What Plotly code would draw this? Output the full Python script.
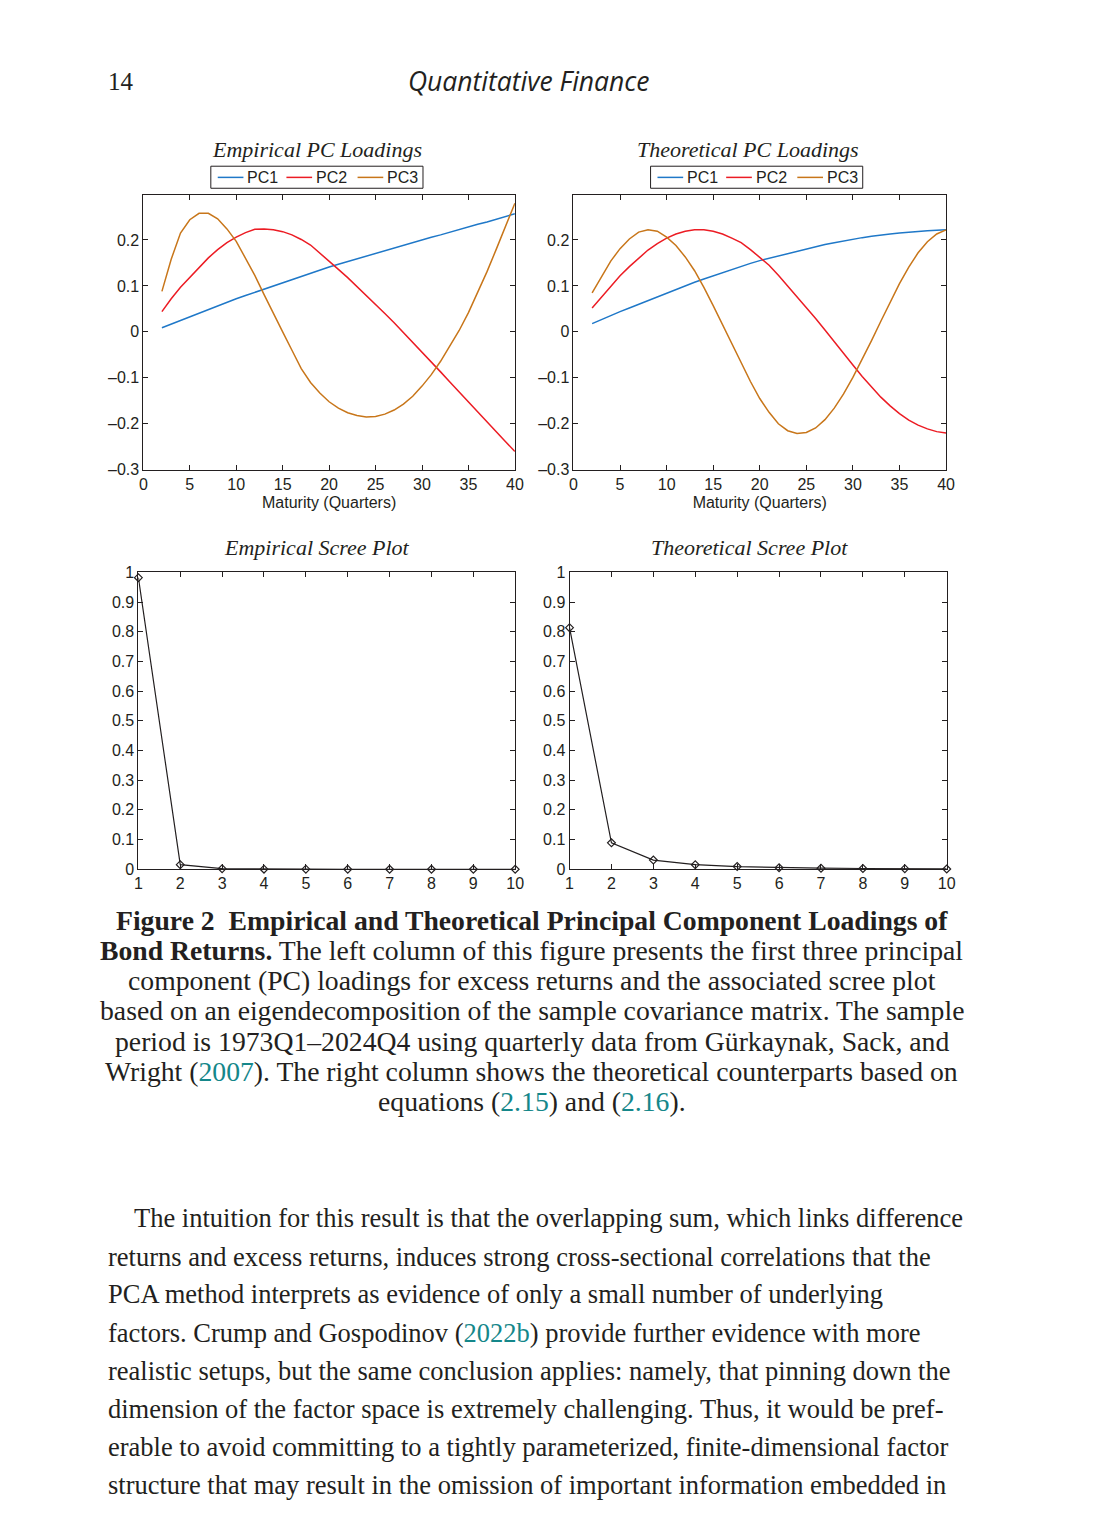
import plotly.graph_objects as go

W, H = 1100, 1520
INK = '#231f20'
TEAL = '#15878a'
BLUE, RED, ORANGE = '#1f78c8', '#ec1c24', '#c8761a'

maturity = list(range(2, 41))

emp_pc1 = [0.009, 0.017, 0.025, 0.033, 0.041, 0.049, 0.057, 0.064, 0.072, 0.079,
           0.086, 0.093, 0.100, 0.107, 0.114, 0.121, 0.128, 0.135, 0.141, 0.147,
           0.153, 0.159, 0.165, 0.171, 0.177, 0.183, 0.189, 0.194, 0.200, 0.206,
           0.211, 0.217, 0.222, 0.228, 0.234, 0.239, 0.245, 0.251, 0.257]
emp_pc2 = [0.044, 0.072, 0.097, 0.118, 0.140, 0.161, 0.179, 0.194, 0.206, 0.216,
           0.223, 0.224, 0.222, 0.218, 0.211, 0.201, 0.189, 0.172, 0.154, 0.136,
           0.118, 0.099, 0.080, 0.060, 0.040, 0.020, -0.001, -0.022, -0.043, -0.065,
           -0.087, -0.109, -0.131, -0.153, -0.175, -0.196, -0.218, -0.239, -0.260]
emp_pc3 = [0.088, 0.158, 0.215, 0.244, 0.258, 0.258, 0.246, 0.224, 0.197, 0.161,
           0.123, 0.081, 0.039, 0.000, -0.040, -0.080, -0.110, -0.133, -0.152, -0.166,
           -0.176, -0.182, -0.185, -0.184, -0.179, -0.170, -0.157, -0.140, -0.118, -0.093,
           -0.064, -0.032, 0.003, 0.042, 0.085, 0.131, 0.180, 0.230, 0.280]

theo_pc1 = [0.018, 0.027, 0.035, 0.044, 0.052, 0.060, 0.069, 0.077, 0.085, 0.093,
            0.100, 0.108, 0.115, 0.122, 0.129, 0.136, 0.142, 0.149, 0.155, 0.160,
            0.166, 0.171, 0.176, 0.181, 0.185, 0.190, 0.194, 0.198, 0.202, 0.205,
            0.208, 0.211, 0.213, 0.215, 0.217, 0.219, 0.220, 0.221, 0.222]
theo_pc2 = [0.052, 0.075, 0.100, 0.122, 0.142, 0.161, 0.178, 0.192, 0.204, 0.213,
            0.219, 0.222, 0.222, 0.219, 0.213, 0.204, 0.194, 0.179, 0.162, 0.145,
            0.123, 0.100, 0.077, 0.054, 0.029, 0.004, -0.022, -0.047, -0.072, -0.097,
            -0.120, -0.142, -0.161, -0.178, -0.192, -0.203, -0.211, -0.217, -0.220]
theo_pc3 = [0.085, 0.120, 0.154, 0.181, 0.202, 0.217, 0.222, 0.219, 0.206, 0.188,
            0.163, 0.133, 0.097, 0.057, 0.016, -0.027, -0.068, -0.108, -0.145, -0.175,
            -0.200, -0.215, -0.221, -0.219, -0.209, -0.191, -0.166, -0.135, -0.099, -0.060,
            -0.019, 0.023, 0.065, 0.105, 0.141, 0.172, 0.196, 0.213, 0.222]

components = list(range(1, 11))
emp_scree = [0.982, 0.0155, 0.002, 0.0004, 0.0002, 0.0001, 0.0001, 0.0, 0.0, 0.0]
theo_scree = [0.8135, 0.089, 0.031, 0.0155, 0.009, 0.0055, 0.0035, 0.0025, 0.002, 0.001]

load_ticks = [-0.3, -0.2, -0.1, 0, 0.1, 0.2]
load_labels = ['–0.3', '–0.2', '–0.1', '0', '0.1', '0.2']
scree_ticks = [0, 0.1, 0.2, 0.3, 0.4, 0.5, 0.6, 0.7, 0.8, 0.9, 1]
scree_labels = ['0', '0.1', '0.2', '0.3', '0.4', '0.5', '0.6', '0.7', '0.8', '0.9', '1']

caption = [
    "<b>Figure 2  Empirical and Theoretical Principal Component Loadings of</b>",
    "<b>Bond Returns.</b> The left column of this figure presents the first three principal",
    "component (PC) loadings for excess returns and the associated scree plot",
    "based on an eigendecomposition of the sample covariance matrix. The sample",
    "period is 1973Q1–2024Q4 using quarterly data from Gürkaynak, Sack, and",
    f"Wright (<span style='color:{TEAL}'>2007</span>). The right column shows the theoretical counterparts based on",
    f"equations (<span style='color:{TEAL}'>2.15</span>) and (<span style='color:{TEAL}'>2.16</span>).",
]
body = [
    "The intuition for this result is that the overlapping sum, which links difference",
    "returns and excess returns, induces strong cross-sectional correlations that the",
    "PCA method interprets as evidence of only a small number of underlying",
    f"factors. Crump and Gospodinov (<span style='color:{TEAL}'>2022b</span>) provide further evidence with more",
    "realistic setups, but the same conclusion applies: namely, that pinning down the",
    "dimension of the factor space is extremely challenging. Thus, it would be pref-",
    "erable to avoid committing to a tightly parameterized, finite-dimensional factor",
    "structure that may result in the omission of important information embedded in",
]


def px(x):
    return x / W


def py(y):
    return 1 - y / H


fig = go.Figure()

panels = [
    ('x', 'y', emp_pc1, emp_pc2, emp_pc3),
    ('x2', 'y2', theo_pc1, theo_pc2, theo_pc3),
]
for xa, ya, p1, p2, p3 in panels:
    for name, vals, col in [('PC1', p1, BLUE), ('PC2', p2, RED), ('PC3', p3, ORANGE)]:
        fig.add_trace(go.Scatter(x=maturity, y=vals, mode='lines', name=name, showlegend=False,
                                 line=dict(color=col, width=1.5), xaxis=xa, yaxis=ya))

for xa, ya, vals in [('x3', 'y3', emp_scree), ('x4', 'y4', theo_scree)]:
    fig.add_trace(go.Scatter(x=components, y=vals, mode='lines+markers', showlegend=False,
                             line=dict(color=INK, width=1.2),
                             marker=dict(symbol='diamond-open', size=6, color=INK,
                                         line=dict(width=1.2)),
                             cliponaxis=False, xaxis=xa, yaxis=ya))

tick_font = dict(family='Liberation Sans, Arial', size=16, color=INK)
axis_style = dict(showline=True, mirror='ticks', ticks='inside', ticklen=5,
                  linecolor=INK, linewidth=1, tickcolor=INK, showgrid=False,
                  zeroline=False, tickfont=tick_font)

# panel pixel boxes: left, right, top, bottom
boxes = {
    '': (141, 517, 189, 467),
    '2': (576.3, 953.3, 189, 467),
    '3': (136, 517.3, 570.7, 871),
    '4': (572.3, 954, 570.7, 871),
}
for k, (l, r, t, b) in boxes.items():
    xs = dict(axis_style, domain=[px(l), px(r)], anchor='y' + k)
    ys = dict(axis_style, domain=[py(b), py(t)], anchor='x' + k)
    if k in ('', '2'):
        xs.update(range=[0, 40], tickvals=list(range(0, 41, 5)),
                  title=dict(text='Maturity (Quarters)', font=tick_font, standoff=4))
        ys.update(range=[-0.3, 0.298], tickvals=load_ticks, ticktext=load_labels)
    else:
        xs.update(range=[1, 10], tickvals=components)
        ys.update(range=[0, 1], tickvals=scree_ticks, ticktext=scree_labels)
    fig.update_layout(**{'xaxis' + k: xs, 'yaxis' + k: ys})

# boxed legends above the loading panels (drawn in page pixels)
legend_font = dict(family='Liberation Sans, Arial', size=16, color=INK)
for left in (209.3, 654.3):
    fig.add_shape(type='rect', xref='paper', yref='paper',
                  x0=px(left), x1=px(left + 214.7), y0=py(182.3), y1=py(160),
                  line=dict(color=INK, width=1), fillcolor='white')
    for name, col, off in [('PC1', BLUE, 7), ('PC2', RED, 76.5), ('PC3', ORANGE, 148.5)]:
        fig.add_shape(type='line', xref='paper', yref='paper',
                      x0=px(left + off), x1=px(left + off + 26), y0=py(171.3), y1=py(171.3),
                      line=dict(color=col, width=1.5))
        fig.add_annotation(text=name, x=px(left + off + 28), y=py(171.3), xref='paper',
                           yref='paper', showarrow=False, xanchor='left', yanchor='middle',
                           font=legend_font)

title_font = dict(family='Liberation Serif, Times New Roman', size=22, color=INK, style='italic')
for txt, x, y in [('Empirical PC Loadings', 317, 143), ('Theoretical PC Loadings', 753, 143),
                  ('Empirical Scree Plot', 317, 546), ('Theoretical Scree Plot', 754, 546)]:
    fig.add_annotation(text=txt, x=px(x), y=py(y), xref='paper', yref='paper',
                       showarrow=False, font=title_font, xanchor='center', yanchor='middle')

# page header
fig.add_annotation(text='14', x=px(103), y=py(74), xref='paper', yref='paper', showarrow=False,
                   xanchor='left', yanchor='middle',
                   font=dict(family='Liberation Serif', size=25, color=INK))
fig.add_annotation(text='Quantitative Finance', x=px(531), y=py(74), xref='paper', yref='paper',
                   showarrow=False, xanchor='center', yanchor='middle',
                   font=dict(family='Open Sans', size=26.5, color=INK, style='italic'))

cap_y = [923, 953, 984, 1014, 1045, 1076, 1106]
for txt, y in zip(caption, cap_y):
    fig.add_annotation(text=txt, x=px(534), y=py(y), xref='paper', yref='paper', showarrow=False,
                       xanchor='center', yanchor='middle',
                       font=dict(family='Liberation Serif', size=27.7, color=INK))

body_y = [1224, 1263, 1301, 1340, 1378, 1417, 1455, 1494]
for i, (txt, y) in enumerate(zip(body, body_y)):
    fig.add_annotation(text=txt, x=px(130 if i == 0 else 103), y=py(y), xref='paper', yref='paper',
                       showarrow=False, xanchor='left', yanchor='middle',
                       font=dict(family='Liberation Serif', size=26.5, color=INK))

fig.update_layout(width=W, height=H, margin=dict(l=0, r=0, t=0, b=0),
                  paper_bgcolor='white', plot_bgcolor='white')

fig.write_html("out.html", config={'displayModeBar': False},
               post_script="document.body.style.margin='0';document.body.style.overflow='hidden';")
